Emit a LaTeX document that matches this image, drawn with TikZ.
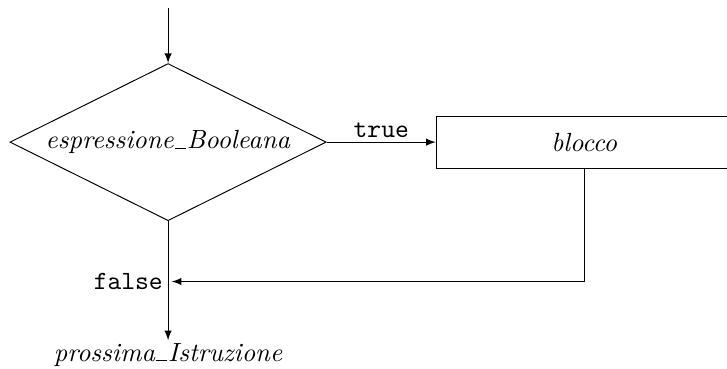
\documentclass[tikz,border=0pt,11pt]{standalone}
\usetikzlibrary{shapes.geometric,arrows}
\newcommand{\us}{\kern.05em\rule{.4em}{.4pt}\kern.05em}
\begin{document}
\begin{tikzpicture}[>=latex, cond/.style = {draw, diamond, aspect=2, inner sep=0pt, minimum width=4.63cm, minimum height=2.3cm}, block/.style = {draw, rectangle, minimum width=4.33cm, minimum height=0.76cm}]

		\useasboundingbox (-2.46,-3.31) rectangle (8.18,2.08);

		\coordinate (start) at (0,1.96);
		\node[cond] (C) at (0,0) {\textit{espressione\us Booleana}};
		\node[block] (B) at (6.09,0) {\textit{blocco}};
		\coordinate (J) at (0,-2.04);
		\node[anchor=north, inner sep=1pt] (N) at (0,-2.9) {\textit{prossima\us Istruzione}};

		\draw[->] (start) to (C.north);
		\draw[->] (C.east) to node[above, inner sep=1.5pt] {\texttt{true}} (B.west);
		\draw[->, shorten >=1.5pt] (B.south) |- (J);
		\draw[->] (C.south) to (N.north);
		\node[left, inner sep=2pt] (F) at (J) {\texttt{false}};
	\end{tikzpicture}
\end{document}
